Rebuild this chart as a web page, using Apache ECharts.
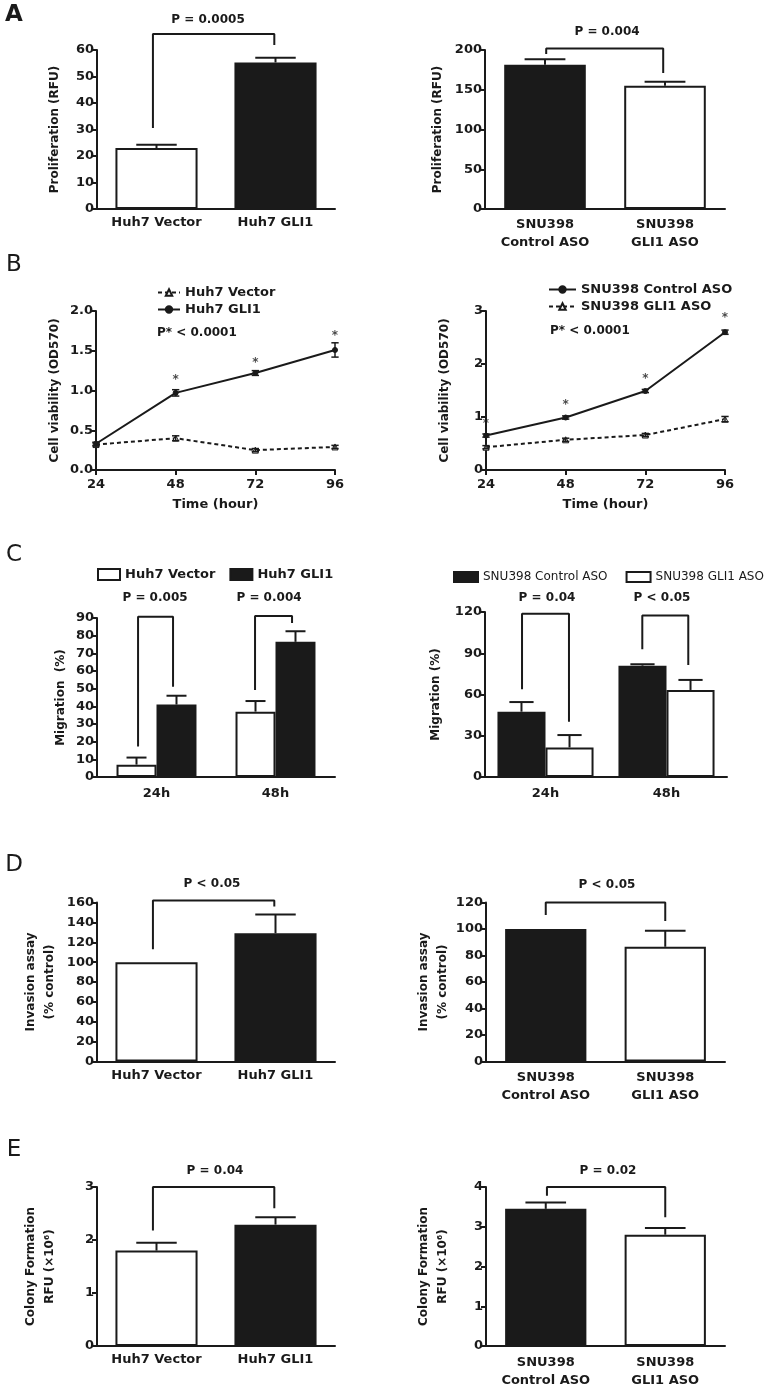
<!DOCTYPE html>
<html>
<head>
<meta charset="utf-8">
<title>GLI1 panels</title>
<script src="https://cdn.jsdelivr.net/npm/echarts@6/dist/echarts.min.js"></script>
<style>
    html, body { margin: 0; padding: 0; background: #fff; }
    #main { width: 769px; height: 1394px; }
</style>
</head>
<body>
<div id="main"></div>
<script>
'use strict';
(function () {
    var FONT = 'DejaVu Sans';
    var INK = '#1a1a1a';

    // ---- categories ----
    var huhCats = ['Huh7 Vector', 'Huh7 GLI1'];
    var snuCats = ['SNU398\nControl ASO', 'SNU398\nGLI1 ASO'];
    var timeCats = ['24h', '48h'];
    var hours = [24, 48, 72, 96];

    // ---- A: proliferation ----
    var prolHuh = [23, 55.3];
    var prolHuhErr = [1.2, 1.8];
    var prolSnu = [181.5, 155];
    var prolSnuErr = [7, 5];

    // ---- B: cell viability ----
    var viaHuhVector = [0.32, 0.40, 0.25, 0.29];
    var viaHuhVectorErr = [0.02, 0.03, 0.02, 0.02];
    var viaHuhGli = [0.33, 0.97, 1.22, 1.51];
    var viaHuhGliErr = [0.02, 0.04, 0.03, 0.09];
    var viaHuhStar = [null, 1.17, 1.39, 1.73];
    var viaSnuCtrl = [0.65, 0.99, 1.49, 2.60];
    var viaSnuCtrlErr = [0.03, 0.03, 0.03, 0.04];
    var viaSnuGli = [0.43, 0.57, 0.66, 0.96];
    var viaSnuGliErr = [0.03, 0.03, 0.03, 0.05];
    var viaSnuStar = [0.92, 1.29, 1.77, 2.92];

    // ---- C: migration ----
    var migHuhVector = [7, 37];
    var migHuhVectorErr = [4, 6];
    var migHuhGli = [41, 76.5];
    var migHuhGliErr = [5, 6];
    var migSnuCtrl = [47.5, 81];
    var migSnuCtrlErr = [7, 1];
    var migSnuGli = [21.5, 63.3];
    var migSnuGliErr = [9, 7.3];

    // ---- D: invasion ----
    var invHuh = [100, 129];
    var invHuhErr = [0, 19];
    var invSnu = [100, 86.6];
    var invSnuErr = [0, 12];

    // ---- E: colony formation ----
    var colHuh = [1.80, 2.29];
    var colHuhErr = [0.15, 0.14];
    var colSnu = [3.45, 2.80];
    var colSnuErr = [0.16, 0.17];

    // significance brackets: [x left, x right, top, left end, right end]
    var brAL = [[-0.03, 0.99, 66, 30.6, 61.9]];
    var brAR = [[0.01, 0.985, 202, 195, 171]];
    var brCL = [[-0.155, 0.139, 90.7, 17.2, 51.1], [0.828, 1.139, 91.1, 49.2, 87.2]];
    var brCR = [[-0.194, 0.194, 118.7, 63.8, 40.1], [0.8, 1.18, 117.5, 93, 81.5]];
    var brDL = [[-0.03, 0.99, 162, 113, 156]];
    var brDR = [[0, 1, 120, 110.5, 106]];
    var brEL = [[-0.03, 0.99, 3.0, 2.18, 2.60]];
    var brER = [[0.01, 1.0, 4.0, 3.78, 3.24]];

    var grids = [], xAxes = [], yAxes = [], series = [], legends = [], texts = [];

    function lbl(size, weight) {
        return { fontFamily: FONT, fontSize: size, fontWeight: weight || 'bold', color: INK };
    }
    function ext(a, b) {
        for (var k in b) a[k] = b[k];
        return a;
    }

    function addGrid(box) {
        grids.push({ left: box[0], top: box[1], width: box[2], height: box[3] });
        return grids.length - 1;
    }

    function addY(g, max, step, name, gap, fmt) {
        yAxes.push({
            gridIndex: g, type: 'value', min: 0, max: max, interval: step,
            name: name, nameLocation: 'middle', nameGap: gap,
            nameTextStyle: ext(lbl(12), { lineHeight: 19 }),
            axisLine: { show: true, onZero: false, lineStyle: { color: INK, width: 2 } },
            axisTick: { show: true, length: 5, lineStyle: { color: INK, width: 2 } },
            axisLabel: ext(lbl(13), { margin: 3, formatter: fmt }),
            splitLine: { show: false }
        });
        return yAxes.length - 1;
    }

    function addCatX(g, cats, margin) {
        xAxes.push({
            gridIndex: g, type: 'category', data: cats,
            axisLine: { onZero: false, lineStyle: { color: INK, width: 2 } },
            axisTick: { alignWithLabel: true, length: 5, lineStyle: { color: INK, width: 2 } },
            axisLabel: ext(lbl(13), { margin: margin, lineHeight: 18, interval: 0 })
        });
        var ci = xAxes.length - 1;
        // hidden helper axis, used to place brackets
        xAxes.push({ gridIndex: g, type: 'value', min: -0.5, max: 1.5, show: false });
        return ci;
    }

    function addTimeX(g) {
        xAxes.push({
            gridIndex: g, type: 'value', min: 24, max: 96, interval: 24,
            name: 'Time (hour)', nameLocation: 'middle', nameGap: 28,
            nameTextStyle: lbl(13),
            axisLine: { onZero: false, lineStyle: { color: INK, width: 2 } },
            axisTick: { length: 5, lineStyle: { color: INK, width: 2 } },
            axisLabel: ext(lbl(13), { margin: 8 }),
            splitLine: { show: false }
        });
        return xAxes.length - 1;
    }

    function errBars(xi, yi, xs, vals, errs, offset, cap, both) {
        series.push({
            type: 'custom', xAxisIndex: xi, yAxisIndex: yi, z: 5, silent: true,
            data: vals.map(function (v, i) { return [xs[i], v, errs[i]]; }),
            renderItem: function (params, api) {
                var e = api.value(2);
                if (!e) return null;
                var v = api.value(1);
                var base = api.coord([api.value(0), both ? v - e : v]);
                var top = api.coord([api.value(0), v + e]);
                var band = api.size([1, 0])[0];
                var x = base[0] + offset * band;
                var c = cap * band;
                var st = { stroke: INK, lineWidth: both ? 1.5 : 2 };
                var kids = [
                    { type: 'line', shape: { x1: x, y1: base[1], x2: x, y2: top[1] }, style: st },
                    { type: 'line', shape: { x1: x - c, y1: top[1], x2: x + c, y2: top[1] }, style: st }
                ];
                if (both) {
                    kids.push({ type: 'line', shape: { x1: x - c, y1: base[1], x2: x + c, y2: base[1] }, style: st });
                }
                return { type: 'group', children: kids };
            }
        });
    }

    function brackets(xi, yi, list) {
        list.forEach(function (b) {
            series.push({
                type: 'line', xAxisIndex: xi + 1, yAxisIndex: yi, clip: false, silent: true,
                symbol: 'none', lineStyle: { color: INK, width: 2 },
                data: [[b[0], b[3]], [b[0], b[2]], [b[1], b[2]], [b[1], b[4]]]
            });
        });
    }

    function singleBars(xi, yi, vals, fills, width) {
        series.push({
            type: 'bar', xAxisIndex: xi, yAxisIndex: yi, barWidth: width,
            itemStyle: { borderColor: INK, borderWidth: 2 },
            data: vals.map(function (v, i) { return { value: v, itemStyle: { color: fills[i] } }; })
        });
    }

    function groupBar(xi, yi, name, vals, fill, width) {
        series.push({
            type: 'bar', name: name, xAxisIndex: xi, yAxisIndex: yi,
            barWidth: width, barGap: '0%',
            itemStyle: { color: fill, borderColor: INK, borderWidth: 2 },
            data: vals
        });
    }

    function lineSeries(xi, yi, name, vals, dashed) {
        series.push({
            type: 'line', name: name, xAxisIndex: xi, yAxisIndex: yi, z: 3,
            data: hours.map(function (h, i) { return [h, vals[i]]; }),
            symbol: dashed ? 'triangle' : 'circle', symbolSize: dashed ? 6 : 5,
            lineStyle: { color: INK, width: 2, type: dashed ? [4, 3] : 'solid' },
            itemStyle: { color: dashed ? '#fff' : INK, borderColor: INK, borderWidth: 1 }
        });
    }

    function stars(xi, yi, vals) {
        var pts = [];
        hours.forEach(function (h, i) { if (vals[i] != null) pts.push([h, vals[i]]); });
        series.push({
            type: 'scatter', xAxisIndex: xi, yAxisIndex: yi, symbolSize: 1, silent: true,
            itemStyle: { color: 'transparent' },
            label: ext(lbl(12), { show: true, position: 'inside', formatter: '*', offset: [0, 3] }),
            data: pts
        });
    }

    function text(str, x, y, size, weight, align) {
        texts.push({
            type: 'text', x: x, y: y, silent: true,
            style: {
                text: str, fill: INK, fontFamily: FONT, fontSize: size, fontWeight: weight,
                align: align || 'center', verticalAlign: 'middle'
            }
        });
    }

    var g, xi, yi;
    var oneDec = function (v) { return v.toFixed(1); };

    // A left
    g = addGrid([97, 50, 238, 159]);
    xi = addCatX(g, huhCats, 5);
    yi = addY(g, 60, 10, 'Proliferation (RFU)', 33);
    singleBars(xi, yi, prolHuh, ['#fff', INK], '69%');
    errBars(xi, yi, [0, 1], prolHuh, prolHuhErr, 0, 0.17);
    brackets(xi, yi, brAL);

    // A right
    g = addGrid([485, 50, 240, 159]);
    xi = addCatX(g, snuCats, 7);
    yi = addY(g, 200, 50, 'Proliferation (RFU)', 38);
    singleBars(xi, yi, prolSnu, [INK, '#fff'], '68%');
    errBars(xi, yi, [0, 1], prolSnu, prolSnuErr, 0, 0.17);
    brackets(xi, yi, brAR);

    // B left
    g = addGrid([96, 311, 239, 159]);
    xi = addTimeX(g);
    yi = addY(g, 2, 0.5, 'Cell viability (OD570)', 32, oneDec);
    lineSeries(xi, yi, 'BL|Huh7 Vector', viaHuhVector, true);
    lineSeries(xi, yi, 'BL|Huh7 GLI1', viaHuhGli, false);
    errBars(xi, yi, hours, viaHuhVector, viaHuhVectorErr, 0, 1.1, true);
    errBars(xi, yi, hours, viaHuhGli, viaHuhGliErr, 0, 1.1, true);
    stars(xi, yi, viaHuhStar);
    legends.push({ left: 157, top: 286, orient: 'vertical', data: ['BL|Huh7 Vector', 'BL|Huh7 GLI1'] });

    // B right
    g = addGrid([486, 311, 239, 159]);
    xi = addTimeX(g);
    yi = addY(g, 3, 1, 'Cell viability (OD570)', 32);
    lineSeries(xi, yi, 'BR|SNU398 Control ASO', viaSnuCtrl, false);
    lineSeries(xi, yi, 'BR|SNU398 GLI1 ASO', viaSnuGli, true);
    errBars(xi, yi, hours, viaSnuCtrl, viaSnuCtrlErr, 0, 1.1, true);
    errBars(xi, yi, hours, viaSnuGli, viaSnuGliErr, 0, 1.1, true);
    stars(xi, yi, viaSnuStar);
    legends.push({ left: 548, top: 283, orient: 'vertical', itemWidth: 27, data: ['BR|SNU398 Control ASO', 'BR|SNU398 GLI1 ASO'] });

    // C left
    g = addGrid([97, 618, 238, 159]);
    xi = addCatX(g, timeCats, 8);
    yi = addY(g, 90, 10, 'Migration  (%)', 27);
    groupBar(xi, yi, 'CL|Huh7 Vector', migHuhVector, '#fff', '33.6%');
    groupBar(xi, yi, 'CL|Huh7 GLI1', migHuhGli, INK, '33.6%');
    errBars(xi, yi, [0, 1], migHuhVector, migHuhVectorErr, -0.168, 0.084);
    errBars(xi, yi, [0, 1], migHuhGli, migHuhGliErr, 0.168, 0.084);
    brackets(xi, yi, brCL);
    legends.push({ left: 97, top: 568, itemWidth: 22, itemHeight: 11, itemGap: 14, icon: 'rect', data: ['CL|Huh7 Vector', 'CL|Huh7 GLI1'] });

    // C right
    g = addGrid([485, 612, 242, 165]);
    xi = addCatX(g, timeCats, 8);
    yi = addY(g, 120, 30, 'Migration (%)', 40);
    groupBar(xi, yi, 'CR|SNU398 Control ASO', migSnuCtrl, INK, '39.7%');
    groupBar(xi, yi, 'CR|SNU398 GLI1 ASO', migSnuGli, '#fff', '39.7%');
    errBars(xi, yi, [0, 1], migSnuCtrl, migSnuCtrlErr, -0.1985, 0.1);
    errBars(xi, yi, [0, 1], migSnuGli, migSnuGliErr, 0.1985, 0.1);
    brackets(xi, yi, brCR);
    legends.push({ left: 453, top: 571, itemWidth: 24, itemHeight: 10, itemGap: 18, icon: 'rect',
        textStyle: lbl(12, 'normal'), data: ['CR|SNU398 Control ASO', 'CR|SNU398 GLI1 ASO'] });

    // D left
    g = addGrid([97, 902.5, 238, 159]);
    xi = addCatX(g, huhCats, 5);
    yi = addY(g, 160, 20, 'Invasion assay\n(% control)', 38);
    singleBars(xi, yi, invHuh, ['#fff', INK], '69%');
    errBars(xi, yi, [0, 1], invHuh, invHuhErr, 0, 0.17);
    brackets(xi, yi, brDL);

    // D right
    g = addGrid([486, 902.5, 239, 159]);
    xi = addCatX(g, snuCats, 7);
    yi = addY(g, 120, 20, 'Invasion assay\n(% control)', 33);
    singleBars(xi, yi, invSnu, [INK, '#fff'], '68%');
    errBars(xi, yi, [0, 1], invSnu, invSnuErr, 0, 0.17);
    brackets(xi, yi, brDR);

    // E left
    g = addGrid([97, 1187, 238, 159]);
    xi = addCatX(g, huhCats, 5);
    yi = addY(g, 3, 1, 'Colony Formation\nRFU (×10⁶)', 38);
    singleBars(xi, yi, colHuh, ['#fff', INK], '69%');
    errBars(xi, yi, [0, 1], colHuh, colHuhErr, 0, 0.17);
    brackets(xi, yi, brEL);

    // E right
    g = addGrid([486, 1187, 239, 159]);
    xi = addCatX(g, snuCats, 8);
    yi = addY(g, 4, 1, 'Colony Formation\nRFU (×10⁶)', 34);
    singleBars(xi, yi, colSnu, [INK, '#fff'], '68%');
    errBars(xi, yi, [0, 1], colSnu, colSnuErr, 0, 0.17);
    brackets(xi, yi, brER);

    // panel letters and p-values
    text('A', 14, 15, 23, 'bold');
    text('B', 14, 265, 23, 'normal');
    text('C', 14, 555, 23, 'normal');
    text('D', 14, 865, 23, 'normal');
    text('E', 14, 1150, 23, 'normal');
    text('P = 0.0005', 208, 20, 12, 'bold');
    text('P = 0.004', 607, 32, 12, 'bold');
    text('P* < 0.0001', 157, 333, 12, 'bold', 'left');
    text('P* < 0.0001', 550, 331, 12, 'bold', 'left');
    text('P = 0.005', 155, 598, 12, 'bold');
    text('P = 0.004', 269, 598, 12, 'bold');
    text('P = 0.04', 547, 598, 12, 'bold');
    text('P < 0.05', 662, 598, 12, 'bold');
    text('P < 0.05', 212, 884, 12, 'bold');
    text('P < 0.05', 607, 885, 12, 'bold');
    text('P = 0.04', 215, 1171, 12, 'bold');
    text('P = 0.02', 608, 1171, 12, 'bold');

    legends.forEach(function (l) {
        l.padding = 0;
        if (l.itemWidth == null) l.itemWidth = 22;
        if (l.itemHeight == null) l.itemHeight = 8;
        if (l.itemGap == null) l.itemGap = 4;
        if (!l.textStyle) l.textStyle = lbl(13);
        l.selectedMode = false;
        l.formatter = function (name) { return name.split('|')[1]; };
    });

    var myChart = echarts.init(document.getElementById('main'), null, { renderer: 'canvas' });
    myChart.setOption({
        backgroundColor: '#fff',
        animation: false,
        textStyle: { fontFamily: FONT },
        grid: grids,
        xAxis: xAxes,
        yAxis: yAxes,
        legend: legends,
        graphic: texts,
        series: series
    });
})();
</script>
</body>
</html>
